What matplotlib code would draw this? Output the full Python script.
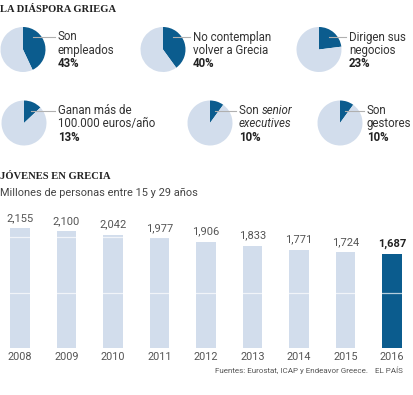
import numpy as np
import matplotlib.pyplot as plt
from matplotlib.lines import Line2D

# Datos
pie_labels = [
    ["Son", "empleados"],
    ["No contemplan", "volver a Grecia"],
    ["Dirigen sus", "negocios"],
    ["Ganan más de", "100.000 euros/año"],
    ["Son ", "executives"],
    ["Son", "gestores"],
]
pie_values = [43, 40, 23, 13, 10, 10]

years = ["2008", "2009", "2010", "2011", "2012", "2013", "2014", "2015", "2016"]
jovenes = [2.155, 2.100, 2.042, 1.977, 1.906, 1.833, 1.771, 1.724, 1.687]
jovenes_txt = ["2,155", "2,100", "2,042", "1,977", "1,906", "1,833", "1,771", "1,724", "1,687"]

DARK = "#0b5c8e"
LIGHT = "#d2ddec"
W, H = 414, 395

plt.rcParams['font.family'] = ['Roboto', 'DejaVu Sans']

fig = plt.figure(figsize=(W / 100, H / 100), dpi=100)
fig.patch.set_facecolor("white")


def fx(p):
    return p / W


def fy(p):
    return 1 - p / H


# Titulos
fig.text(fx(0), fy(10), "LA DIÁSPORA GRIEGA", family="Liberation Serif", weight="bold",
         fontsize=7.6, color="#222222", va="center", ha="left")
fig.text(fx(0), fy(177), "JÓVENES EN GRECIA", family="Liberation Serif", weight="bold",
         fontsize=7.6, color="#222222", va="center", ha="left")
fig.text(fx(0), fy(193), "Millones de personas entre 15 y 29 años", fontsize=7.9,
         color="#444444", va="center", ha="left")

# Tartas: centro (px), radio, x del texto
pie_pos = [(23, 49.5), (163, 49.5), (319, 49.5), (24, 123), (210, 123), (340, 123)]
text_x = [58, 193, 349, 58, 239, 367]
r = 22.5
FS = 8.3
spacing = 13.3

for i, (val, lab) in enumerate(zip(pie_values, pie_labels)):
    cx, cy = pie_pos[i]
    pax = fig.add_axes([fx(cx - r), fy(cy + r), 2 * r / W, 2 * r / H])
    pax.pie([val, 100 - val], colors=[DARK, LIGHT], startangle=90, counterclock=False,
            radius=1, wedgeprops=dict(linewidth=0))
    pax.set_xlim(-1, 1)
    pax.set_ylim(-1, 1)
    pax.set_axis_off()

    base = cy - 9
    # linea guia
    dy = (cy - (base - 3.5)) / r
    ang = np.deg2rad(val * 3.6)
    span = min(dy * np.tan(ang) if ang < np.pi / 2 else 9, np.sqrt(1 - dy ** 2))
    x0 = 0.55 * span
    x1 = (text_x[i] - 3 - cx) / r
    pax.add_line(Line2D([x0, x1], [dy, dy], color="#b0b0b0", lw=0.8, clip_on=False))

    if i == 4:
        t = fig.text(fx(text_x[i]), fy(base), lab[0], fontsize=FS, color="#333333",
                     va="baseline", ha="left")
        fig.canvas.draw()
        bb = t.get_window_extent()
        fig.text(bb.x1 / W, fy(base), "senior", fontsize=FS, color="#333333",
                 style="italic", va="baseline", ha="left")
        fig.text(fx(text_x[i]), fy(base + spacing), lab[1], fontsize=FS, color="#333333",
                 style="italic", va="baseline", ha="left")
    else:
        fig.text(fx(text_x[i]), fy(base), lab[0], fontsize=FS, color="#333333",
                 va="baseline", ha="left")
        fig.text(fx(text_x[i]), fy(base + spacing), lab[1], fontsize=FS, color="#333333",
                 va="baseline", ha="left")
    fig.text(fx(text_x[i]), fy(base + 2 * spacing), f"{val}%", fontsize=FS, color="#222222",
             weight="bold", va="baseline", ha="left")

# Barras
ax = fig.add_axes([0, fy(348), 1, 148 / H])
x = np.arange(len(years))
colors = [LIGHT] * (len(years) - 1) + [DARK]
ax.bar(x, jovenes, width=0.43, color=colors, zorder=2)
for yy in [1, 2]:
    ax.axhline(yy, color="white", lw=0.9, alpha=0.7, zorder=3)
ax.set_xlim((0 - 20) / 46.5, (W - 20) / 46.5)
ax.set_ylim(0, 148 / 55.5)
for i, (v, s) in enumerate(zip(jovenes, jovenes_txt)):
    last = i == len(years) - 1
    ax.annotate(s, (i, v), xytext=(0, 4), textcoords="offset points", ha="center",
                va="bottom", fontsize=8, color="#222222" if last else "#555555",
                weight="bold" if last else "normal")
ax.set_xticks(x)
ax.set_xticklabels(years, fontsize=7.8, color="#555555")
ax.tick_params(axis="x", length=0, pad=3.2)
ax.set_yticks([])
for sp in ax.spines.values():
    sp.set_visible(False)
ax.patch.set_alpha(0)

# Pie
fig.text(fx(368), fy(371), "Fuentes: Eurostat, ICAP y Endeavor Greece.", fontsize=5.8,
         color="#555555", ha="right", va="center")
fig.text(fx(403), fy(371), "EL PAÍS", fontsize=5.8, color="#555555", ha="right", va="center")

fig.savefig("out.png", dpi=100)
